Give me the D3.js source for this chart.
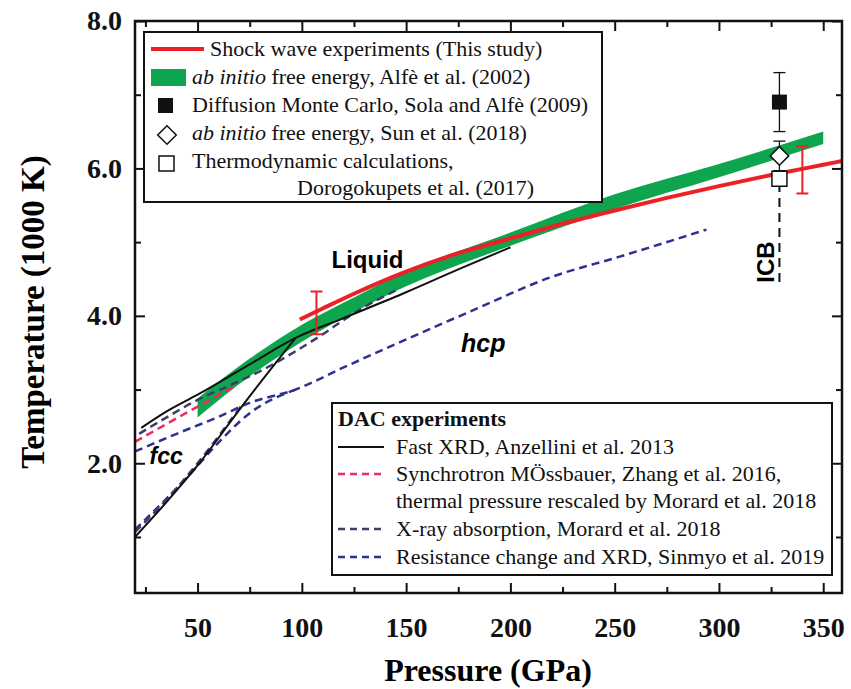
<!DOCTYPE html>
<html>
<head>
<meta charset="utf-8">
<script src="https://cdn.jsdelivr.net/npm/d3@7/dist/d3.min.js"></script>
<style>
  body { margin: 0; background: #fff; }
  svg { display: block; }
</style>
</head>
<body>
<script>
var width = 851;
var height = 689;

// shock wave melting curve (this study)
var shockP = [99, 110, 125, 150, 175, 200, 225, 250, 275, 300, 325, 350, 359];
var shockT = [3.95, 4.1, 4.3, 4.6, 4.85, 5.05, 5.25, 5.43, 5.6, 5.76, 5.91, 6.05, 6.1];
var shockErrP = [107, 340];
var shockErrT = [4.04, 5.98];
var shockErr = [0.29, 0.32];

// Alfe et al. 2002 band
var alfeP = [50, 75, 100, 125, 150, 200, 250, 300, 350];
var alfeLo = [2.62, 3.18, 3.65, 4.05, 4.4, 4.95, 5.45, 5.88, 6.33];
var alfeHi = [2.88, 3.42, 3.88, 4.25, 4.6, 5.13, 5.65, 6.06, 6.5];

// Anzellini et al. 2013 (melting and fcc-hcp)
var anzMeltP = [23, 35, 50, 76, 97, 120, 150, 175, 200];
var anzMeltT = [2.48, 2.7, 2.93, 3.36, 3.7, 3.97, 4.32, 4.63, 4.93];
var anzFccP = [20, 35, 50, 72, 97];
var anzFccT = [1.0, 1.47, 1.97, 2.8, 3.7];

// Zhang et al. 2016
var zhangP = [20, 45, 69];
var zhangT = [2.29, 2.69, 3.06];

// Morard et al. 2018
var morMeltP = [22, 35, 50, 65, 80, 97, 110, 123, 135, 147];
var morMeltT = [2.4, 2.62, 2.86, 3.05, 3.25, 3.52, 3.75, 4.0, 4.2, 4.37];
var morFccP = [20, 35, 50, 72];
var morFccT = [1.07, 1.5, 2.0, 2.82];

// Sinmyo et al. 2019
var sinMeltP = [20, 40, 60, 75, 97, 120, 150, 180, 220, 252, 294];
var sinMeltT = [2.16, 2.4, 2.63, 2.82, 3.0, 3.3, 3.68, 4.05, 4.53, 4.8, 5.17];
var sinFccP = [20, 46, 60, 75, 97];
var sinFccT = [1.1, 1.84, 2.28, 2.68, 3.0];

// ICB points
var icbP = 329;
var icbLowT = 4.46;
var dmcT = 6.9, dmcErr = 0.4;
var sunT = 6.17, sunErr = 0.2;
var doroT = 5.86;

var xMajor = [50, 100, 150, 200, 250, 300, 350];
var xMinor = [25, 75, 125, 175, 225, 275, 325];
var yMajor = [2, 4, 6, 8];
var yMinor = [1, 3, 5, 7];

var serif = "'Liberation Serif', 'Times New Roman', serif";
var sans = "'Liberation Sans', Arial, sans-serif";

var svg = d3.select("body")
    .append("svg")
    .attr("width", width)
    .attr("height", height);

var x = d3.scaleLinear().domain([20, 359]).range([135, 842]);
var y = d3.scaleLinear().domain([0.24, 8]).range([593, 21]);

function pts(P, T) {
    return P.map(function(p, i) { return [p, T[i]]; });
}

var line = d3.line()
    .x(function(d) { return x(d[0]); })
    .y(function(d) { return y(d[1]); })
    .curve(d3.curveMonotoneX);

var plot = svg.append("g");

// green band
var area = d3.area()
    .x(function(d) { return x(d[0]); })
    .y0(function(d) { return y(d[1]); })
    .y1(function(d) { return y(d[2]); })
    .curve(d3.curveMonotoneX);
plot.append("path")
    .attr("d", area(alfeP.map(function(p, i) { return [p, alfeLo[i], alfeHi[i]]; })))
    .attr("fill", "#0ea54e");

var dash = "8,5";
var curves = [
    {d: pts(sinMeltP, sinMeltT), c: "#2e3192", w: 2.5, dash: dash},
    {d: pts(sinFccP, sinFccT), c: "#2e3192", w: 2.5, dash: dash},
    {d: pts(morMeltP, morMeltT), c: "#3d3d6b", w: 2.5, dash: dash},
    {d: pts(morFccP, morFccT), c: "#3d3d6b", w: 2.5, dash: dash},
    {d: pts(zhangP, zhangT), c: "#ee2b5e", w: 2.5, dash: dash},
    {d: pts(anzMeltP, anzMeltT), c: "#111", w: 2, dash: null},
    {d: pts(anzFccP, anzFccT), c: "#111", w: 2, dash: null},
    {d: pts(shockP, shockT), c: "#ec2027", w: 4, dash: null}
];
plot.selectAll(".curve")
    .data(curves)
    .enter().append("path")
    .attr("class", "curve")
    .attr("d", function(d) { return line(d.d); })
    .attr("fill", "none")
    .attr("stroke", function(d) { return d.c; })
    .attr("stroke-width", function(d) { return d.w; })
    .attr("stroke-dasharray", function(d) { return d.dash; });

// red error bars
var eb = plot.selectAll(".rerr")
    .data(shockErrP)
    .enter().append("g")
    .attr("class", "rerr")
    .attr("stroke", "#ec2027")
    .attr("stroke-width", 2);
eb.append("line")
    .attr("x1", function(d) { return x(d); })
    .attr("x2", function(d) { return x(d); })
    .attr("y1", function(d, i) { return y(shockErrT[i] - shockErr[i]); })
    .attr("y2", function(d, i) { return y(shockErrT[i] + shockErr[i]); });
[-1, 1].forEach(function(s) {
    eb.append("line")
        .attr("x1", function(d) { return x(d) - 6; })
        .attr("x2", function(d) { return x(d) + 6; })
        .attr("y1", function(d, i) { return y(shockErrT[i] + s * shockErr[i]); })
        .attr("y2", function(d, i) { return y(shockErrT[i] + s * shockErr[i]); });
});

// ICB dashed line
plot.append("line")
    .attr("x1", x(icbP)).attr("x2", x(icbP))
    .attr("y1", y(icbLowT)).attr("y2", y(doroT))
    .attr("stroke", "#111")
    .attr("stroke-width", 2)
    .attr("stroke-dasharray", "9,6");

// black error bars at ICB
function blackErr(t, e) {
    var g = plot.append("g").attr("stroke", "#111").attr("stroke-width", 1.3);
    g.append("line").attr("x1", x(icbP)).attr("x2", x(icbP))
        .attr("y1", y(t - e)).attr("y2", y(t + e));
    [-1, 1].forEach(function(s) {
        g.append("line").attr("x1", x(icbP) - 6).attr("x2", x(icbP) + 6)
            .attr("y1", y(t + s * e)).attr("y2", y(t + s * e));
    });
}
blackErr(dmcT, dmcErr);
blackErr(sunT, sunErr);

var diamond = d3.symbol().type(d3.symbolDiamond2).size(220);

plot.append("rect")
    .attr("x", x(icbP) - 7.5).attr("y", y(dmcT) - 7.5)
    .attr("width", 15).attr("height", 15)
    .attr("fill", "#111");
plot.append("path")
    .attr("d", diamond())
    .attr("transform", "translate(" + x(icbP) + "," + y(sunT) + ")")
    .attr("fill", "#fff").attr("stroke", "#111").attr("stroke-width", 1.5);
plot.append("rect")
    .attr("x", x(icbP) - 7.5).attr("y", y(doroT) - 7.5)
    .attr("width", 15).attr("height", 15)
    .attr("fill", "#fff").attr("stroke", "#111").attr("stroke-width", 1.5);

// annotations
plot.append("text").attr("x", x(131.5)).attr("y", y(4.65))
    .attr("text-anchor", "middle")
    .style("font", "bold 24px " + sans).text("Liquid");
plot.append("text").attr("x", x(176.3)).attr("y", y(3.51))
    .style("font", "italic bold 25px " + sans).text("hcp");
plot.append("text").attr("x", x(27)).attr("y", y(1.99))
    .style("font", "italic bold 23px " + sans).text("fcc");
plot.append("text")
    .attr("transform", "translate(" + (x(322) + 9) + "," + y(4.73) + ") rotate(-90)")
    .attr("text-anchor", "middle")
    .style("font", "bold 24px " + sans).text("ICB");

// axes (ticks point inward)
function styleAxis(g) {
    g.select(".domain").remove();
    g.selectAll("line").attr("stroke", "#111").attr("stroke-width", 2);
    g.selectAll("text").style("font", "bold 28px " + serif).attr("fill", "#111");
}
svg.append("g").attr("transform", "translate(0,593)")
    .call(d3.axisBottom(x).tickValues(xMajor).tickSize(-10).tickPadding(24).tickFormat(d3.format("d")))
    .call(styleAxis);
svg.append("g").attr("transform", "translate(0,593)")
    .call(d3.axisBottom(x).tickValues(xMinor).tickSize(-6).tickFormat(""))
    .call(styleAxis);
svg.append("g").attr("transform", "translate(0,21)")
    .call(d3.axisTop(x).tickValues(xMajor).tickSize(-10).tickFormat(""))
    .call(styleAxis);
svg.append("g").attr("transform", "translate(0,21)")
    .call(d3.axisTop(x).tickValues(xMinor).tickSize(-6).tickFormat(""))
    .call(styleAxis);
svg.append("g").attr("transform", "translate(135,0)")
    .call(d3.axisLeft(y).tickValues(yMajor).tickSize(-10).tickPadding(13).tickFormat(d3.format(".1f")))
    .call(styleAxis);
svg.append("g").attr("transform", "translate(135,0)")
    .call(d3.axisLeft(y).tickValues(yMinor).tickSize(-6).tickFormat(""))
    .call(styleAxis);
svg.append("g").attr("transform", "translate(842,0)")
    .call(d3.axisRight(y).tickValues(yMajor).tickSize(-10).tickFormat(""))
    .call(styleAxis);
svg.append("g").attr("transform", "translate(842,0)")
    .call(d3.axisRight(y).tickValues(yMinor).tickSize(-6).tickFormat(""))
    .call(styleAxis);

svg.append("rect")
    .attr("x", 135).attr("y", 21)
    .attr("width", 842 - 135).attr("height", 593 - 21)
    .attr("fill", "none").attr("stroke", "#111").attr("stroke-width", 2.5);

svg.append("text")
    .attr("x", 488).attr("y", 681)
    .attr("text-anchor", "middle")
    .style("font", "bold 32px " + serif)
    .text("Pressure (GPa)");
svg.append("text")
    .attr("transform", "translate(44,312) rotate(-90)")
    .attr("text-anchor", "middle")
    .style("font", "bold 33px " + serif)
    .text("Temperature (1000 K)");

// top legend
var leg = svg.append("g").style("font", "22px " + serif).attr("fill", "#111");
leg.append("rect").attr("x", 144).attr("y", 32).attr("width", 458).attr("height", 170)
    .attr("fill", "#fff").attr("stroke", "#111").attr("stroke-width", 2);
leg.append("line").attr("x1", 151).attr("x2", 204).attr("y1", 49).attr("y2", 49)
    .attr("stroke", "#ec2027").attr("stroke-width", 4);
leg.append("text").attr("x", 210).attr("y", 56).text("Shock wave experiments (This study)");
leg.append("rect").attr("x", 151).attr("y", 69).attr("width", 35).attr("height", 17)
    .attr("fill", "#0ea54e");
var t2 = leg.append("text").attr("x", 192).attr("y", 84);
t2.append("tspan").style("font-style", "italic").text("ab initio");
t2.append("tspan").text(" free energy, Alfè et al. (2002)");
leg.append("rect").attr("x", 158).attr("y", 98).attr("width", 15).attr("height", 15)
    .attr("fill", "#111");
leg.append("text").attr("x", 192).attr("y", 112).text("Diffusion Monte Carlo, Sola and Alfè (2009)");
leg.append("path")
    .attr("d", diamond())
    .attr("transform", "translate(167,135)")
    .attr("fill", "#fff").attr("stroke", "#111").attr("stroke-width", 1.5);
var t4 = leg.append("text").attr("x", 192).attr("y", 140);
t4.append("tspan").style("font-style", "italic").text("ab initio");
t4.append("tspan").text(" free energy, Sun et al. (2018)");
leg.append("rect").attr("x", 159).attr("y", 156).attr("width", 15).attr("height", 15)
    .attr("fill", "#fff").attr("stroke", "#111").attr("stroke-width", 1.5);
leg.append("text").attr("x", 192).attr("y", 168).text("Thermodynamic calculations,");
leg.append("text").attr("x", 297).attr("y", 195).text("Dorogokupets et al. (2017)");

// DAC legend
var dac = svg.append("g").style("font", "22px " + serif).attr("fill", "#111");
dac.append("rect").attr("x", 332).attr("y", 403).attr("width", 500).attr("height", 172)
    .attr("fill", "#fff").attr("stroke", "#111").attr("stroke-width", 2);
dac.append("text").attr("x", 338).attr("y", 426).style("font-weight", "bold").text("DAC experiments");
var dacRows = [
    {c: "#111", dash: null, w: 2, t: "Fast XRD, Anzellini et al. 2013", y: 454},
    {c: "#ee2b5e", dash: "7,5", w: 2.5, t: "Synchrotron MÖssbauer, Zhang et al. 2016,", y: 481},
    {c: null, t: "thermal pressure rescaled by Morard et al. 2018", y: 508},
    {c: "#3d3d6b", dash: "7,5", w: 2.5, t: "X-ray absorption, Morard et al. 2018", y: 536},
    {c: "#2e3192", dash: "7,5", w: 2.5, t: "Resistance change and XRD, Sinmyo et al. 2019", y: 564}
];
dacRows.forEach(function(r) {
    if (r.c) {
        dac.append("line").attr("x1", 338).attr("x2", 384)
            .attr("y1", r.y - 7).attr("y2", r.y - 7)
            .attr("stroke", r.c).attr("stroke-width", r.w)
            .attr("stroke-dasharray", r.dash);
    }
    dac.append("text").attr("x", 396).attr("y", r.y).text(r.t);
});
</script>
</body>
</html>
